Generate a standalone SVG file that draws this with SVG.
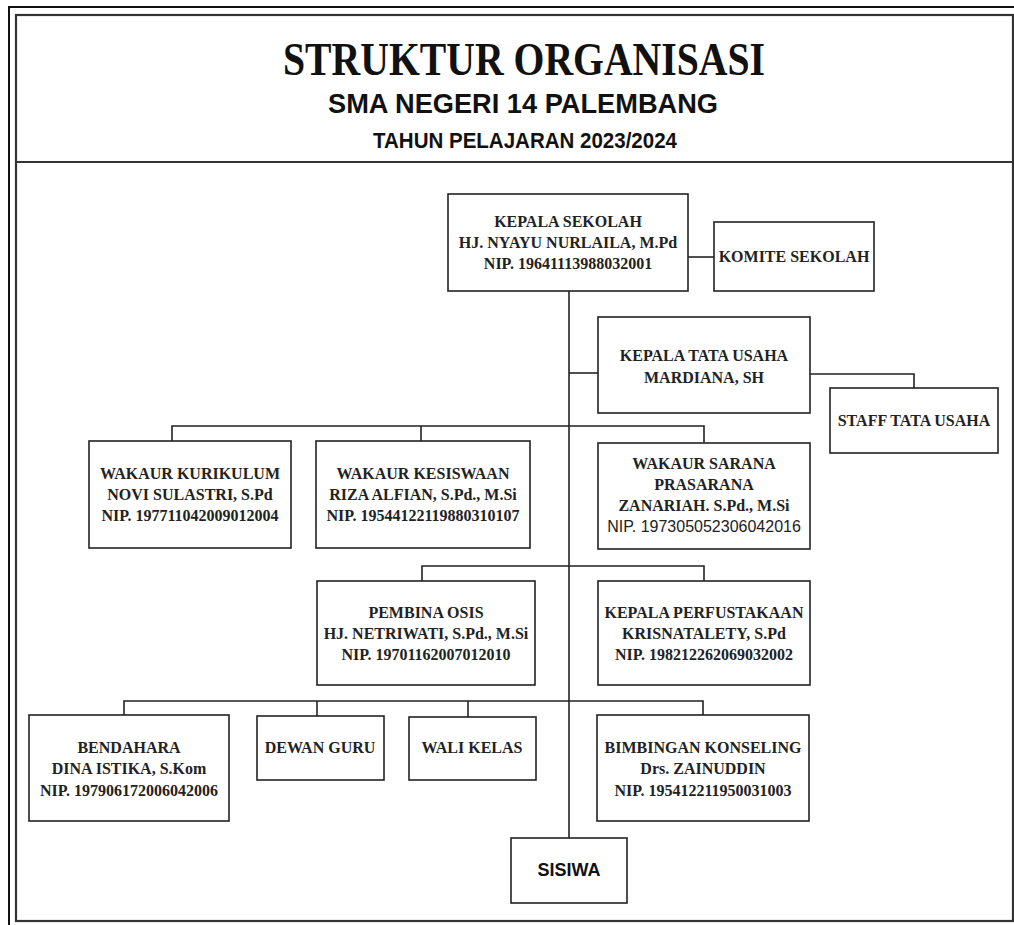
<svg xmlns="http://www.w3.org/2000/svg" width="1014" height="925" viewBox="0 0 1014 925">
<style>
.box{fill:#fff;stroke:#222;stroke-width:1.6}
.t{font-family:"Liberation Serif","Times New Roman",serif;font-weight:bold;font-size:16px;fill:#222;text-anchor:middle}
.a{font-family:"Liberation Sans",Arial,sans-serif;font-size:16px;fill:#222;text-anchor:middle}
.ab{font-family:"Liberation Sans",Arial,sans-serif;font-weight:bold;fill:#111;text-anchor:middle}
.c{fill:none;stroke:#222;stroke-width:1.6}
.frame{fill:none;stroke:#111;stroke-width:2}
</style>
<rect width="1014" height="925" fill="#fff"/>
<g id="frame">
<path class="frame" d="M9,925 V7 H1014"/>
<rect x="16" y="15" width="997" height="906" fill="none" stroke="#333" stroke-width="2.2"/>
<line x1="16" y1="162" x2="1013" y2="162" stroke="#333" stroke-width="2.2"/>
</g>
<g id="header">
<text x="524" y="75" font-family="'Liberation Serif','Times New Roman',serif" font-weight="bold" font-size="46" text-anchor="middle" fill="#111" textLength="482" lengthAdjust="spacingAndGlyphs">STRUKTUR ORGANISASI</text>
<text class="ab" x="523" y="113" font-size="28" textLength="390" lengthAdjust="spacingAndGlyphs">SMA NEGERI 14 PALEMBANG</text>
<text class="ab" x="525" y="148" font-size="22" textLength="304" lengthAdjust="spacingAndGlyphs">TAHUN PELAJARAN 2023/2024</text>
</g>
<g id="connectors">
<line class="c" x1="569" y1="291" x2="569" y2="838"/>
<line class="c" x1="688" y1="257" x2="714" y2="257"/>
<line class="c" x1="569" y1="373" x2="598" y2="373"/>
<path class="c" d="M810,374 H914 V388"/>
<path class="c" d="M172,441 V426 H704 V443"/>
<line class="c" x1="421" y1="426" x2="421" y2="441"/>
<path class="c" d="M422,581 V566 H704 V581"/>
<path class="c" d="M124,715 V701 H703 V715"/>
<line class="c" x1="317" y1="701" x2="317" y2="716"/>
<line class="c" x1="468" y1="701" x2="468" y2="717"/>
</g>
<g id="kepala-sekolah">
<rect class="box" x="448" y="194" width="240" height="97"/>
<text class="t" x="568" y="227">KEPALA SEKOLAH</text>
<text class="t" x="568" y="248">HJ. NYAYU NURLAILA, M.Pd</text>
<text class="t" x="568" y="269">NIP. 19641113988032001</text>
</g>
<g id="komite-sekolah">
<rect class="box" x="714" y="222" width="160" height="69"/>
<text class="t" x="794" y="262">KOMITE SEKOLAH</text>
</g>
<g id="kepala-tata-usaha">
<rect class="box" x="598" y="317" width="212" height="96"/>
<text class="t" x="704" y="361">KEPALA TATA USAHA</text>
<text class="t" x="704" y="383">MARDIANA, SH</text>
</g>
<g id="staff-tata-usaha">
<rect class="box" x="830" y="388" width="168" height="65"/>
<text class="t" x="914" y="426">STAFF TATA USAHA</text>
</g>
<g id="wakaur-kurikulum">
<rect class="box" x="89" y="441" width="202" height="107"/>
<text class="t" x="190" y="479">WAKAUR KURIKULUM</text>
<text class="t" x="190" y="500">NOVI SULASTRI, S.Pd</text>
<text class="t" x="190" y="521">NIP. 197711042009012004</text>
</g>
<g id="wakaur-kesiswaan">
<rect class="box" x="316" y="441" width="214" height="107"/>
<text class="t" x="423" y="479">WAKAUR KESISWAAN</text>
<text class="t" x="423" y="500">RIZA ALFIAN, S.Pd., M.Si</text>
<text class="t" x="423" y="521">NIP. 19544122119880310107</text>
</g>
<g id="wakaur-sarana">
<rect class="box" x="598" y="443" width="212" height="106"/>
<text class="t" x="704" y="469">WAKAUR SARANA</text>
<text class="t" x="704" y="490">PRASARANA</text>
<text class="t" x="704" y="511">ZANARIAH. S.Pd., M.Si</text>
<text class="a" x="704" y="532">NIP. 197305052306042016</text>
</g>
<g id="pembina-osis">
<rect class="box" x="317" y="581" width="218" height="104"/>
<text class="t" x="426" y="618">PEMBINA OSIS</text>
<text class="t" x="426" y="639">HJ. NETRIWATI, S.Pd., M.Si</text>
<text class="t" x="426" y="660">NIP. 19701162007012010</text>
</g>
<g id="kepala-perpustakaan">
<rect class="box" x="598" y="581" width="212" height="104"/>
<text class="t" x="704" y="618">KEPALA PERFUSTAKAAN</text>
<text class="t" x="704" y="639">KRISNATALETY, S.Pd</text>
<text class="t" x="704" y="660">NIP. 198212262069032002</text>
</g>
<g id="bendahara">
<rect class="box" x="29" y="715" width="200" height="106"/>
<text class="t" x="129" y="753">BENDAHARA</text>
<text class="t" x="129" y="774">DINA ISTIKA, S.Kom</text>
<text class="t" x="129" y="796">NIP. 197906172006042006</text>
</g>
<g id="dewan-guru">
<rect class="box" x="257" y="716" width="127" height="64"/>
<text class="t" x="320" y="753">DEWAN GURU</text>
</g>
<g id="wali-kelas">
<rect class="box" x="409" y="717" width="127" height="63"/>
<text class="t" x="472" y="753">WALI KELAS</text>
</g>
<g id="bimbingan-konseling">
<rect class="box" x="597" y="715" width="212" height="106"/>
<text class="t" x="703" y="753">BIMBINGAN KONSELING</text>
<text class="t" x="703" y="774">Drs. ZAINUDDIN</text>
<text class="t" x="703" y="796">NIP. 195412211950031003</text>
</g>
<g id="siswa">
<rect class="box" x="511" y="838" width="116" height="65"/>
<text class="ab" x="569" y="876" font-size="18">SISIWA</text>
</g>
</svg>
